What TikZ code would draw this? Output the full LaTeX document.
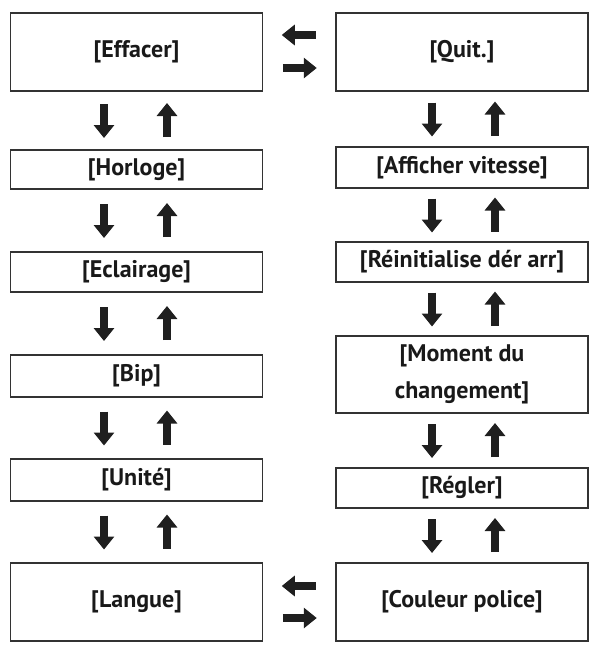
\documentclass[tikz,border=0pt]{standalone}
\usepackage{fontspec}
\setmainfont{PT Sans}
\usetikzlibrary{arrows.meta,calc}
\begin{document}
\begin{tikzpicture}[x=1pt,y=-1pt,
  box/.style={draw=black!80,line width=1.8pt,minimum width=252pt,inner sep=0pt,
    font=\fontsize{24}{37}\selectfont\bfseries,text=black!90,align=center},
  fat/.style={line width=7.5pt,black!88,-{Triangle[width=20pt,length=13pt]},shorten >=-1pt}]
\useasboundingbox (0,0) rectangle (593,645);
% left column
\node[box,minimum height=78pt] (eff) at (136.5,52) {[Effacer]};
\node[box,minimum height=39pt] (hor) at (136.5,169.5) {[Horloge]};
\node[box,minimum height=40pt] (ecl) at (136.5,272) {[Eclairage]};
\node[box,minimum height=42pt] (bip) at (136.5,376) {[Bip]};
\node[box,minimum height=42pt] (uni) at (136.5,480) {[Unité]};
\node[box,minimum height=78pt] (lan) at (136.5,602) {[Langue]};
% right column
\node[box,minimum height=78pt] (qui) at (462,52) {[Quit.]};
\node[box,minimum height=41pt] (aff) at (462,167.5) {[Afficher vitesse]};
\node[box,minimum height=40pt] (rei) at (462,262) {[Réinitialise dér arr]};
\node[box,minimum height=77pt] (mom) at (462,374.5) {[Moment du\\changement]};
\node[box,minimum height=40pt] (reg) at (462,488) {[Régler]};
\node[box,minimum height=78pt] (cou) at (462,602) {[Couleur police]};
% vertical arrow pairs
\foreach \a/\b/\dl/\dr in {eff/hor/-32.5/30.5,hor/ecl/-32.5/30.5,ecl/bip/-32.5/30.5,bip/uni/-32.5/30.5,uni/lan/-32.5/30.5,
  qui/aff/-30/33,aff/rei/-30/33,rei/mom/-30/33,mom/reg/-30/33,reg/cou/-30/33}{
  \coordinate (m) at ($(\a.south)!0.5!(\b.north)$);
  \draw[fat] ($(m)+(\dl,-16.5)$) -- ($(m)+(\dl,16.5)$);
  \draw[fat] ($(m)+(\dr,16.5)$) -- ($(m)+(\dr,-16.5)$);
}
% horizontal arrow pairs
\foreach \a/\b/\ya/\yb in {eff/qui/-17/16,lan/cou/-16/16}{
  \coordinate (h) at ($(\a.east)!0.5!(\b.west)$);
  \draw[fat] ($(h)+(16.5,\ya)$) -- ($(h)+(-16.5,\ya)$);
  \draw[fat] ($(h)+(-16.5,\yb)$) -- ($(h)+(16.5,\yb)$);
}
\end{tikzpicture}
\end{document}
